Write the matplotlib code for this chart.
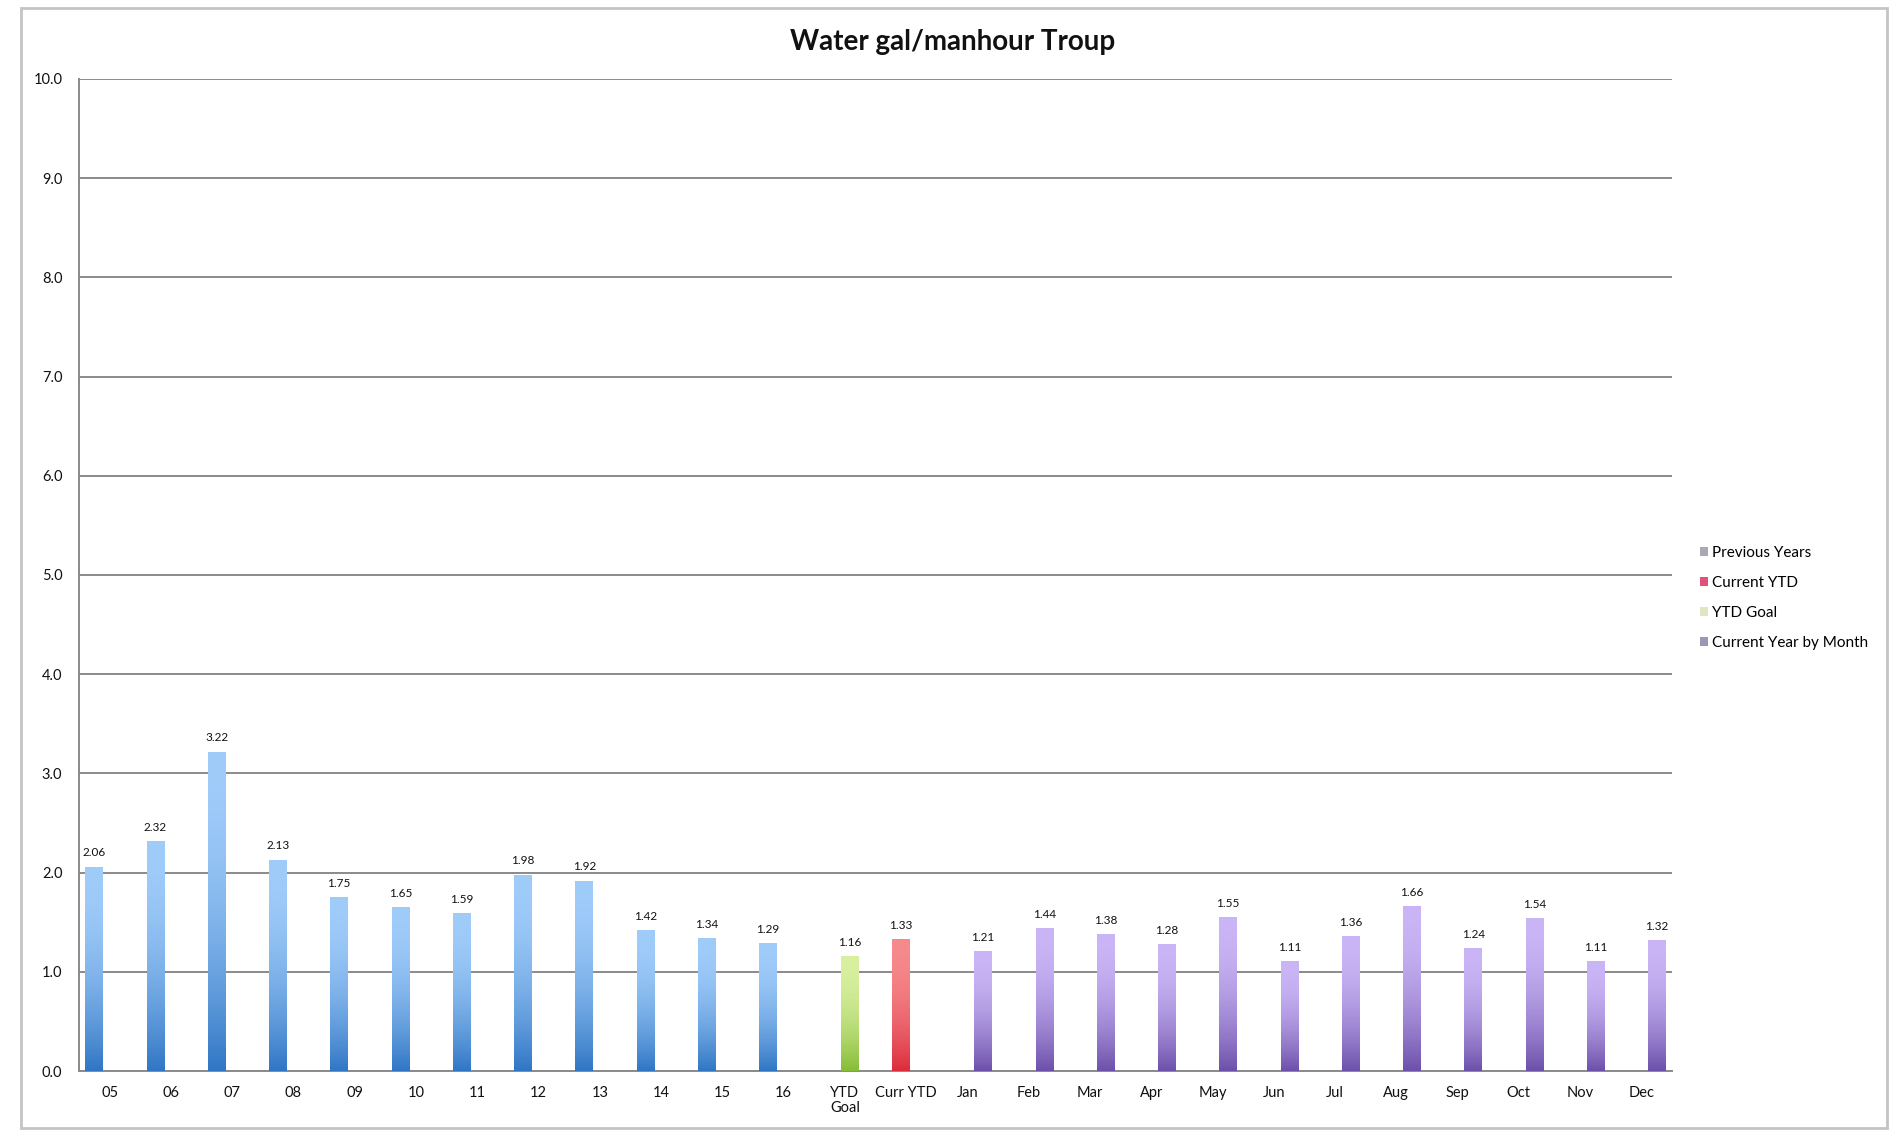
#!/usr/bin/env python3
# -*- coding: utf-8 -*-
"""
Water gal/manhour - Troup
Barras por ano, meta/realizado YTD e ano corrente por mês.
Saída: out.png
"""

import numpy as np
import matplotlib
matplotlib.use("Agg")
import matplotlib.pyplot as plt
from matplotlib.patches import Rectangle, Patch

plt.rcParams['font.family'] = ['Lato', 'DejaVu Sans']

# --- dados -------------------------------------------------------------------
anos = ['05', '06', '07', '08', '09', '10', '11', '12', '13', '14', '15', '16']
meses = ['Jan', 'Feb', 'Mar', 'Apr', 'May', 'Jun',
         'Jul', 'Aug', 'Sep', 'Oct', 'Nov', 'Dec']
rotulos = anos + ['YTD\nGoal', 'Curr YTD'] + meses

anos_anteriores = [2.06, 2.32, 3.22, 2.13, 1.75, 1.65, 1.59, 1.98, 1.92, 1.42, 1.34, 1.29]
meta_ytd = [1.16]
atual_ytd = [1.33]
ano_atual_mes = [1.21, 1.44, 1.38, 1.28, 1.55, 1.11, 1.36, 1.66, 1.24, 1.54, 1.11, 1.32]

series_nomes = ['Previous Years', 'Current YTD', 'YTD Goal', 'Current Year by Month']
legenda_cores = ['#a9a9b2', '#e2507c', '#dfe6c4', '#9a98b2']


def serie_completa(valores, inicio):
    """Coloca os valores na posição certa das 26 categorias (NaN no resto)"""
    s = np.full(len(rotulos), np.nan)
    s[inicio:inicio + len(valores)] = valores
    return s


series = [
    serie_completa(anos_anteriores, 0),
    serie_completa(atual_ytd, 13),
    serie_completa(meta_ytd, 12),
    serie_completa(ano_atual_mes, 14),
]

# gradiente (topo claro -> base escura) de cada série
gradientes = [
    ((160, 204, 250), (48, 118, 196)),
    ((246, 138, 140), (220, 44, 60)),
    ((216, 240, 160), (134, 188, 54)),
    ((202, 182, 246), (108, 80, 170)),
]


def pintar_gradiente(ax, barra, topo, base):
    """Preenche a barra com um degradê vertical"""
    x, y = barra.get_x(), barra.get_y()
    w, h = barra.get_width(), barra.get_height()
    t = np.linspace(0, 1, 256) ** 2.0  # escurece mais perto da base
    topo = np.array(topo) / 255.0
    base = np.array(base) / 255.0
    cores = topo[None, :] * (1 - t[:, None]) + base[None, :] * t[:, None]
    img = cores[:, None, :]
    im = ax.imshow(img, extent=[x, x + w, y, y + h], origin='upper',
                   aspect='auto', zorder=3, interpolation='bilinear')
    im.set_clip_path(barra)


fig = plt.figure(figsize=(19, 11.33), dpi=100)
ax = fig.add_axes([0.0416, 0.0547, 0.8384, 0.8756])

x = np.arange(len(rotulos))
largura = 0.285
deslocamentos = [-0.255, -0.085, 0.085, 0.255]

for serie, desl, (topo, base) in zip(series, deslocamentos, gradientes):
    barras = ax.bar(x + desl, serie, largura, color='none', edgecolor='none', zorder=3)
    for barra, valor in zip(barras, serie):
        if np.isnan(valor):
            continue
        pintar_gradiente(ax, barra, topo, base)
        ax.annotate(f'{valor:.2f}', (barra.get_x() + barra.get_width() / 2, valor),
                    xytext=(0, 6), textcoords='offset points',
                    ha='center', va='bottom', fontsize=8.5, color='#111111')

ax.set_xlim(-0.5, len(rotulos) - 0.5)
ax.set_ylim(0, 10)
ax.set_yticks(np.arange(0, 10.1, 1.0))
ax.set_yticklabels([f'{v:.1f}' for v in np.arange(0, 10.1, 1.0)])
ax.set_xticks(x)
ax.set_xticklabels(rotulos, linespacing=1.05)
ax.tick_params(axis='both', length=0, labelsize=10.5, colors='#111111')
ax.tick_params(axis='y', pad=12)
ax.tick_params(axis='x', pad=11)

ax.yaxis.grid(True, color='#8a8a8a', linewidth=1.4, zorder=1)
ax.set_axisbelow(True)
for lado in ['top', 'right']:
    ax.spines[lado].set_visible(False)
for lado in ['left', 'bottom']:
    ax.spines[lado].set_color('#8a8a8a')
    ax.spines[lado].set_linewidth(1.4)

fig.text(0.5015, 0.963, 'Water gal/manhour Troup', ha='center', va='center',
         fontsize=20, fontweight='bold', color='#111111')

handles = [Patch(facecolor=c, edgecolor='none') for c in legenda_cores]
fig.legend(handles, series_nomes, loc='center left', bbox_to_anchor=(0.8875, 0.4725),
           frameon=False, fontsize=11, handlelength=0.5, handleheight=0.5,
           handletextpad=0.3, labelspacing=1.05)

# moldura do gráfico
fig.patches.append(Rectangle((0.011, 0.004), 0.982, 0.989, transform=fig.transFigure,
                             fill=False, edgecolor='#c4c4c4', linewidth=2.0))

fig.savefig('out.png', dpi=100)
